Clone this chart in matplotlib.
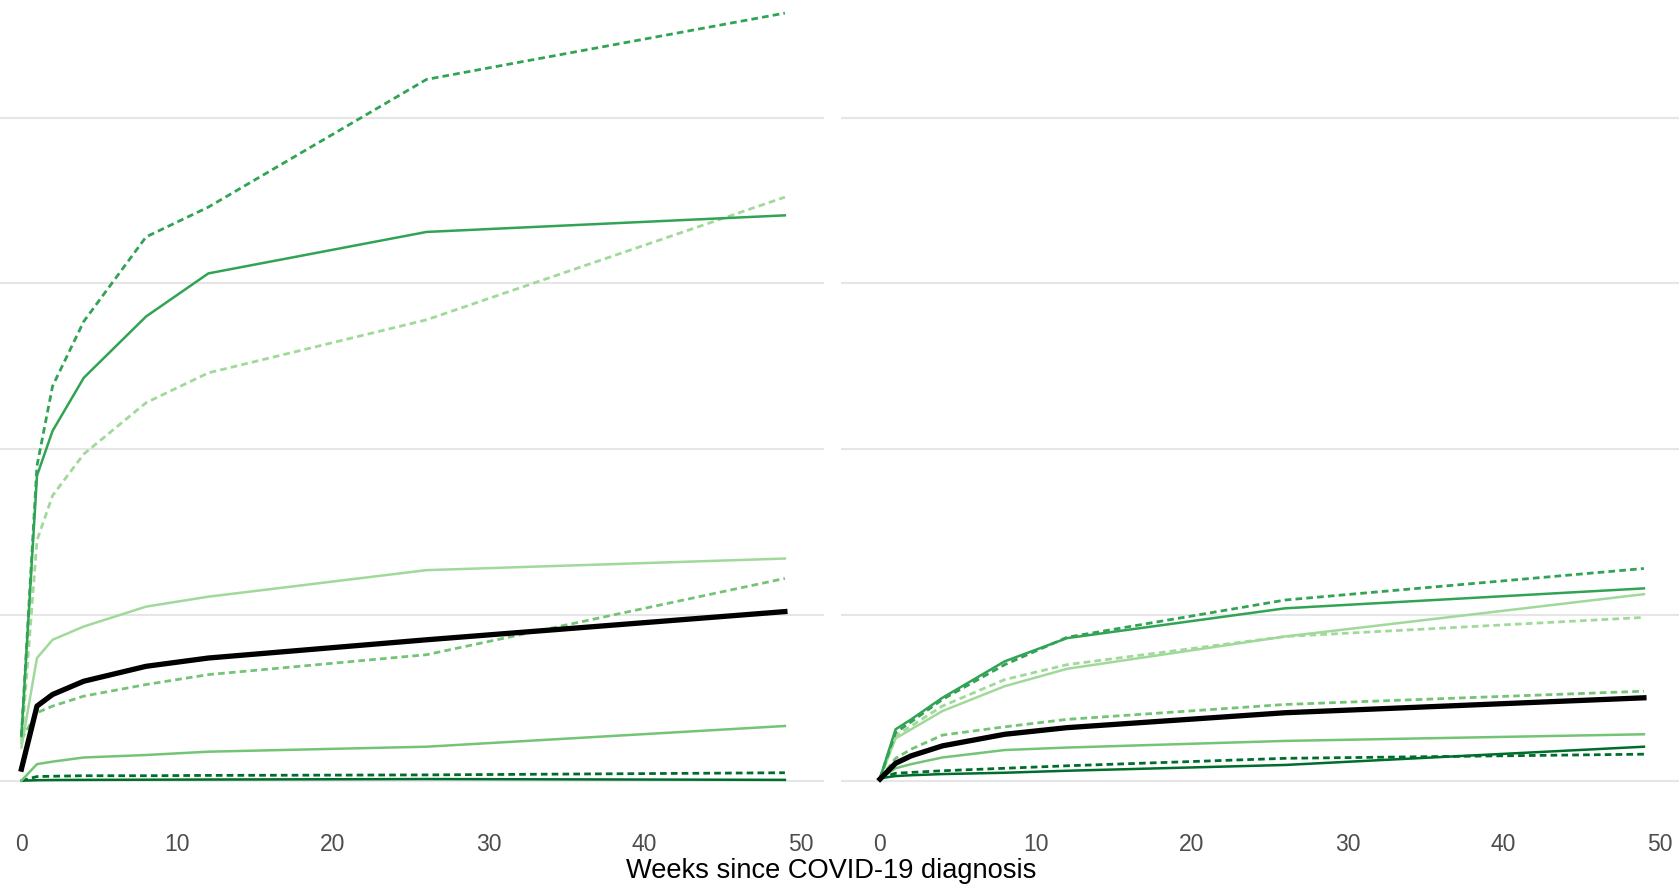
import matplotlib
matplotlib.use("Agg")
import matplotlib.pyplot as plt

plt.rcParams['font.family'] = ['Liberation Sans', 'DejaVu Sans']

weeks = [0, 1, 2, 4, 8, 12, 26, 49]

# left panel
left_a = [0.27, 1.90, 2.38, 2.77, 3.28, 3.46, 4.23, 4.63]   # dashed, mid green
left_b = [0.27, 1.84, 2.11, 2.43, 2.80, 3.06, 3.31, 3.41]   # solid, mid green
left_c = [0.22, 1.45, 1.72, 1.97, 2.28, 2.46, 2.78, 3.52]   # dashed, light green
left_d = [0.20, 0.74, 0.85, 0.93, 1.05, 1.11, 1.27, 1.34]   # solid, light green
left_f = [0.25, 0.41, 0.45, 0.51, 0.58, 0.64, 0.76, 1.22]   # dashed, green
left_g = [0.00, 0.10, 0.115, 0.14, 0.155, 0.175, 0.205, 0.33]  # solid, green
left_h = [0.00, 0.025, 0.027, 0.03, 0.03, 0.032, 0.035, 0.048]  # dashed, dark green
left_i = [0.00, 0.003, 0.004, 0.005, 0.006, 0.007, 0.01, 0.005]  # solid, dark green
left_all = [0.07, 0.45, 0.52, 0.60, 0.69, 0.74, 0.85, 1.02]  # overall, black

# right panel
right_a = [0.015, 0.29, 0.355, 0.49, 0.70, 0.865, 1.09, 1.28]
right_b = [0.015, 0.31, 0.37, 0.50, 0.72, 0.86, 1.04, 1.16]
right_c = [0.015, 0.27, 0.33, 0.45, 0.61, 0.70, 0.87, 0.985]
right_d = [0.015, 0.255, 0.31, 0.42, 0.57, 0.675, 0.87, 1.125]
right_f = [0.015, 0.135, 0.19, 0.275, 0.325, 0.37, 0.46, 0.54]
right_g = [0.015, 0.075, 0.10, 0.14, 0.185, 0.20, 0.24, 0.28]
right_h = [0.015, 0.045, 0.05, 0.06, 0.075, 0.09, 0.135, 0.16]
right_i = [0.015, 0.028, 0.033, 0.04, 0.048, 0.06, 0.095, 0.205]
right_all = [0.01, 0.105, 0.15, 0.21, 0.28, 0.32, 0.41, 0.50]

x_ticks = [0, 10, 20, 30, 40, 50]
grid_y = [0, 1, 2, 3, 4]

mid = '#31a354'
light = '#a1d99b'
green = '#74c476'
dark = '#006d2c'
dash = (2.4, 1.5)

fig = plt.figure(figsize=(16.79, 8.86), dpi=100)
ax1 = fig.add_axes([0, 67 / 886, 824 / 1679, 819 / 886])
ax2 = fig.add_axes([840.6 / 1679, 67 / 886, 1 - 840.6 / 1679, 819 / 886])


def draw(ax, a, b, c, d, f, g, h, i, tot):
    lw = 1.8
    dlw = 2.0
    ax.plot(weeks, h, color=dark, lw=dlw, dashes=dash)
    ax.plot(weeks, i, color=dark, lw=lw)
    ax.plot(weeks, g, color=green, lw=lw)
    ax.plot(weeks, f, color=green, lw=dlw, dashes=dash)
    ax.plot(weeks, d, color=light, lw=lw)
    ax.plot(weeks, c, color=light, lw=dlw, dashes=dash)
    ax.plot(weeks, b, color=mid, lw=lw)
    ax.plot(weeks, a, color=mid, lw=dlw, dashes=dash)
    ax.plot(weeks, tot, color='black', lw=3.8, zorder=5)
    ax.set_yticks(grid_y)
    ax.set_yticklabels([])
    ax.set_xticks(x_ticks)
    ax.grid(axis='y', color='#e6e6e6', lw=1.5)
    ax.set_axisbelow(True)
    for s in ax.spines.values():
        s.set_visible(False)
    ax.tick_params(length=0, pad=10, labelsize=16.5, labelcolor='#4d4d4d')
    ax.set_ylim(-0.231, 4.709)


draw(ax1, left_a, left_b, left_c, left_d, left_f, left_g, left_h, left_i, left_all)
draw(ax2, right_a, right_b, right_c, right_d, right_f, right_g, right_h, right_i, right_all)
ax1.set_xlim(-1.374, 51.51)
ax2.set_xlim(-2.527, 51.25)

fig.text(831 / 1679, (886 - 878) / 886, 'Weeks since COVID-19 diagnosis',
         ha='center', va='baseline', fontsize=19.6, color='black')

fig.savefig('out.png', dpi=100)
